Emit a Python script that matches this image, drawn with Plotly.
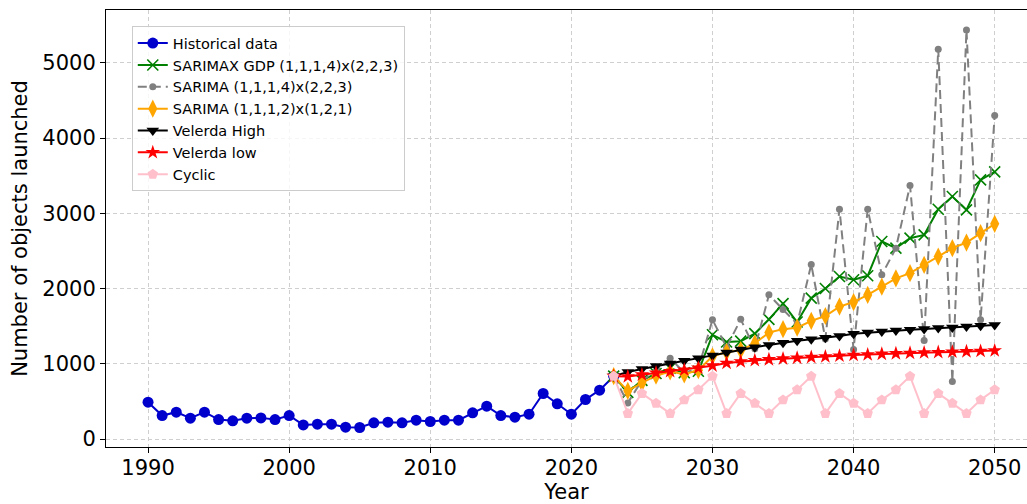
import plotly.graph_objects as go

hist_years = list(range(1990, 2024))
hist_vals = [489, 312, 357, 277, 357, 259, 242, 277, 281, 259,
             312, 188, 197, 197, 157, 153, 215, 224, 215, 250,
             233, 250, 250, 348, 436, 312, 290, 330, 605, 468,
             330, 525, 649, 835]

fc_years = list(range(2023, 2051))
sarimax_gdp = [835, 620, 780, 870, 940, 880, 900, 1385, 1290, 1300,
               1400, 1590, 1800, 1555, 1872, 2000, 2160, 2116, 2169, 2625,
               2536, 2669, 2713, 3054, 3222, 3045, 3444, 3550]
sarima_1114 = [835, 480, 780, 900, 1075, 880, 940, 1584, 1220, 1590,
               1200, 1916, 1720, 1530, 2320, 1330, 3054, 1190, 3054, 2182,
               2536, 3368, 1310, 5179, 765, 5436, 1584, 4298]
sarima_1112 = [835, 640, 745, 841, 898, 860, 915, 1100, 1155, 1180,
               1270, 1415, 1460, 1480, 1570, 1635, 1760, 1820, 1915, 2025,
               2135, 2204, 2315, 2425, 2536, 2611, 2735, 2859]
velerda_high = [835, 890, 930, 970, 1005, 1040, 1075, 1110, 1150, 1190,
                1220, 1250, 1280, 1305, 1325, 1345, 1370, 1400, 1415, 1428,
                1441, 1452, 1462, 1474, 1483, 1494, 1505, 1515]
velerda_low = [835, 830, 855, 880, 900, 920, 945, 975, 1010, 1030,
               1045, 1057, 1068, 1078, 1087, 1095, 1105, 1115, 1122, 1130,
               1137, 1143, 1148, 1153, 1158, 1163, 1168, 1175]
cyclic = [835, 340, 605, 475, 340, 520, 655, 835, 340, 605,
          475, 340, 520, 655, 835, 340, 605, 475, 340, 520,
          655, 835, 340, 605, 475, 340, 520, 655]

x_ticks = [1990, 2000, 2010, 2020, 2030, 2040, 2050]
y_ticks = [0, 1000, 2000, 3000, 4000, 5000]

FONT = "DejaVu Sans"

fig = go.Figure()
fig.add_trace(go.Scatter(x=hist_years, y=hist_vals, mode="lines+markers",
                         name="Historical data",
                         line=dict(color="#0000CD", width=2),
                         marker=dict(symbol="circle", size=11, color="#0000CD")))
fig.add_trace(go.Scatter(x=fc_years, y=sarimax_gdp, mode="lines+markers",
                         name="SARIMAX GDP (1,1,1,4)x(2,2,3)",
                         line=dict(color="green", width=2),
                         marker=dict(symbol="x-thin", size=11, color="green",
                                     line=dict(color="green", width=1.6))))
fig.add_trace(go.Scatter(x=fc_years, y=sarima_1114, mode="lines+markers",
                         name="SARIMA (1,1,1,4)x(2,2,3)",
                         line=dict(color="grey", width=2, dash="9px,5px"),
                         marker=dict(symbol="circle", size=7, color="grey")))
fig.add_trace(go.Scatter(x=fc_years, y=sarima_1112, mode="lines+markers",
                         name="SARIMA (1,1,1,2)x(1,2,1)",
                         line=dict(color="orange", width=2),
                         marker=dict(symbol="diamond-tall", size=13, color="orange")))
fig.add_trace(go.Scatter(x=fc_years, y=velerda_high, mode="lines+markers",
                         name="Velerda High",
                         line=dict(color="black", width=2),
                         marker=dict(symbol="triangle-down", size=11, color="black")))
fig.add_trace(go.Scatter(x=fc_years, y=velerda_low, mode="lines+markers",
                         name="Velerda low",
                         line=dict(color="red", width=2),
                         marker=dict(symbol="star", size=11, color="red")))
fig.add_trace(go.Scatter(x=fc_years, y=cyclic, mode="lines+markers",
                         name="Cyclic",
                         line=dict(color="pink", width=2),
                         marker=dict(symbol="pentagon", size=11, color="pink")))

fig.update_layout(
    width=1027, height=504,
    margin=dict(l=106, r=0, t=10, b=57),
    paper_bgcolor="white", plot_bgcolor="white",
    font=dict(family=FONT, color="black", size=21),
    legend=dict(x=0.028, y=0.963, xanchor="left", yanchor="top",
                bgcolor="rgba(255,255,255,0.8)", bordercolor="#cccccc",
                borderwidth=1, font=dict(family=FONT, size=14.5, color="black")),
    showlegend=True,
)
fig.update_xaxes(range=[1987.02, 2052.29], tickmode="array", tickvals=x_ticks,
                 ticktext=[str(v) for v in x_ticks],
                 ticks="outside", ticklen=5, tickcolor="black",
                 ticklabelstandoff=-3,
                 showline=True, linecolor="black", linewidth=1, mirror=True,
                 showgrid=True, gridcolor="#cfcfcf", griddash="4px,3px", gridwidth=1,
                 zeroline=False,
                 title=dict(text="Year", font=dict(size=21), standoff=2),
                 tickfont=dict(size=21))
fig.update_yaxes(range=[-106, 5701], tickmode="array", tickvals=y_ticks,
                 ticktext=[str(v) for v in y_ticks],
                 ticks="outside", ticklen=5, tickcolor="black",
                 showline=True, linecolor="black", linewidth=1, mirror=False,
                 showgrid=True, gridcolor="#cfcfcf", griddash="4px,3px", gridwidth=1,
                 zeroline=False,
                 title=dict(text="Number of objects launched", font=dict(size=21), standoff=8),
                 tickfont=dict(size=21))

fig.write_html("out.html", post_script="document.body.style.margin='0';",
               config={"displayModeBar": False})
